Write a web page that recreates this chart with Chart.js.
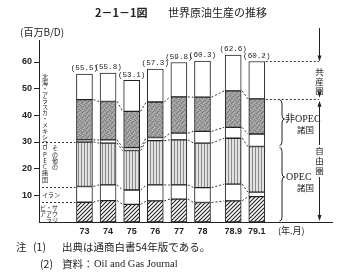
<!DOCTYPE html>
<html>
<head>
<meta charset="utf-8">
<script src="https://cdn.jsdelivr.net/npm/chart.js@4.4.1/dist/chart.umd.min.js"></script>
<style>
  html, body { margin: 0; padding: 0; background: #fff; }
</style>
</head>
<body>
<canvas id="chart" width="351" height="275"></canvas>
<script>
// data (百万B/D)
const years = ['73', '74', '75', '76', '77', '78', '78.9', '79.1'];
const saudi = [7.4, 8.0, 6.6, 7.9, 8.6, 7.3, 7.9, 9.5];
const iran = [5.9, 5.9, 5.4, 6.0, 5.3, 5.6, 6.3, 1.7];
const otherOpec = [16.7, 15.7, 14.8, 16.6, 16.9, 16.7, 17.2, 17.1];
const northSea = [0.8, 1.2, 1.1, 1.2, 2.5, 4.4, 4.1, 4.7];
const otherNonOpec = [15.1, 14.4, 13.6, 13.3, 13.6, 12.8, 13.7, 13.2];
const communist = [9.6, 10.6, 11.6, 12.3, 12.9, 13.5, 13.4, 14.0];
const totals = ['55.5', '55.8', '53.1', '57.3', '59.8', '60.3', '62.6', '60.2'];
const yTicks = [10, 20, 30, 40, 50, 60];

// monthly bars sit a bit further right than the yearly ones
function xPos(i) { return i + (i >= 6 ? 0.3 : 0); }

const canvas = document.getElementById('chart');
const mainCtx = canvas.getContext('2d');

function makePattern(w, h, draw) {
    const c = document.createElement('canvas');
    c.width = w; c.height = h;
    draw(c.getContext('2d'), w, h);
    return mainCtx.createPattern(c, 'repeat');
}

const hatch = makePattern(4, 4, function(g, w, h) {
    g.fillStyle = '#fff'; g.fillRect(0, 0, w, h);
    g.strokeStyle = '#222'; g.lineWidth = 1.1;
    g.beginPath();
    g.moveTo(0, h); g.lineTo(w, 0);
    g.moveTo(-1, 1); g.lineTo(1, -1);
    g.moveTo(w - 1, h + 1); g.lineTo(w + 1, h - 1);
    g.stroke();
});
const stripes = makePattern(3, 3, function(g, w, h) {
    g.fillStyle = '#e2e2e2'; g.fillRect(0, 0, w, h);
    g.fillStyle = '#8a8a8a'; g.fillRect(0, 0, 1, h);
});
const stipple = makePattern(5, 5, function(g, w, h) {
    g.fillStyle = '#9e9e9e'; g.fillRect(0, 0, w, h);
    g.fillStyle = '#7a7a7a';
    g.fillRect(0, 0, 1, 1); g.fillRect(3, 1, 1, 1); g.fillRect(1, 3, 1, 1); g.fillRect(4, 4, 1, 1); g.fillRect(2, 2, 1, 1);
    g.fillStyle = '#b6b6b6';
    g.fillRect(2, 0, 1, 1); g.fillRect(4, 2, 1, 1); g.fillRect(0, 4, 1, 1); g.fillRect(3, 3, 1, 1);
});

const series = [saudi, iran, otherOpec, northSea, otherNonOpec, communist];
const names = ['サウジアラビア', 'イラン', 'その他のOPEC諸国', '北海・アラスカ・メキシコ', 'その他の非OPEC諸国', '共産圏'];
const fills = [hatch, '#fff', stripes, '#fff', stipple, '#fff'];

const datasets = series.map(function(s, k) {
    return {
        label: names[k],
        data: s.map(function(v, i) { return { x: xPos(i), y: v }; }),
        backgroundColor: fills[k],
        borderColor: '#222',
        borderWidth: 1,
        borderSkipped: false,
        barThickness: 16
    };
});

function vtext(ctx, str, x, y, step) {
    for (let i = 0; i < str.length; i++) {
        ctx.fillText(str[i], x, y + i * step);
    }
}

function arrowHead(ctx, x, y, dir) {
    ctx.beginPath();
    ctx.moveTo(x, y);
    ctx.lineTo(x - 2, y - 6 * dir);
    ctx.lineTo(x + 2, y - 6 * dir);
    ctx.closePath();
    ctx.fill();
}

function brace(ctx, x, y1, y2, ym, w) {
    const r = 4;
    ctx.beginPath();
    ctx.moveTo(x, y1);
    ctx.quadraticCurveTo(x + w / 2, y1, x + w / 2, y1 + r);
    ctx.lineTo(x + w / 2, ym - r);
    ctx.quadraticCurveTo(x + w / 2, ym, x + w, ym);
    ctx.quadraticCurveTo(x + w / 2, ym, x + w / 2, ym + r);
    ctx.lineTo(x + w / 2, y2 - r);
    ctx.quadraticCurveTo(x + w / 2, y2, x, y2);
    ctx.stroke();
}

const overlay = {
    id: 'overlay',
    afterDatasetsDraw(chart) {
        const ctx = chart.ctx;
        const ys = chart.scales.y;
        const bars = chart.getDatasetMeta(0).data;
        const n = years.length;

        // cumulative levels for each bar
        const cum = [];
        for (let i = 0; i < n; i++) {
            let s = 0;
            const row = [];
            series.forEach(function(arr) { s += arr[i]; row.push(s); });
            cum.push(row);
        }

        ctx.save();
        ctx.strokeStyle = '#333';
        ctx.lineWidth = 1;
        ctx.setLineDash([2, 2]);

        // dashed connectors between neighbouring bars
        for (let k = 0; k < 5; k++) {
            for (let i = 0; i < n - 1; i++) {
                const a = bars[i], b = bars[i + 1];
                ctx.beginPath();
                ctx.moveTo(a.x + a.width / 2 + 1, ys.getPixelForValue(cum[i][k]));
                ctx.lineTo(b.x - b.width / 2 - 1, ys.getPixelForValue(cum[i + 1][k]));
                ctx.stroke();
            }
        }
        // dashed leaders from left labels
        [0, 1, 2].forEach(function(k) {
            const y = Math.round(ys.getPixelForValue(cum[0][k])) + 0.5;
            ctx.beginPath();
            ctx.moveTo(42, y);
            ctx.lineTo(bars[0].x - bars[0].width / 2 - 1, y);
            ctx.stroke();
        });
        // dashed leaders to right annotation
        const last = bars[n - 1];
        [5, 4].forEach(function(k) {
            const y = Math.round(ys.getPixelForValue(cum[n - 1][k])) + 0.5;
            ctx.beginPath();
            ctx.moveTo(last.x + last.width / 2 + 1, y);
            ctx.lineTo(319, y);
            ctx.stroke();
        });
        ctx.setLineDash([]);

        // totals above bars
        ctx.fillStyle = '#222';
        ctx.font = '7.6px "Liberation Mono", monospace';
        ctx.textAlign = 'center';
        ctx.textBaseline = 'bottom';
        for (let i = 0; i < n; i++) {
            ctx.fillText('(' + totals[i] + ')', bars[i].x, ys.getPixelForValue(cum[i][5]) - 2);
        }

        // left side small labels
        ctx.font = '6px "Noto Sans CJK JP"';
        ctx.textBaseline = 'middle';
        vtext(ctx, '北海・アラスカ・メキシコ', 45, 77, 6);
        vtext(ctx, 'OPEC諸国', 45, 148, 6.3);
        vtext(ctx, 'その他の', 55, 148, 6.3);
        ctx.textAlign = 'left';
        ctx.fillText('イラン', 42, 195);
        ctx.textAlign = 'center';
        vtext(ctx, 'サウジ', 55, 208, 6);
        vtext(ctx, '・アラ', 49, 208, 6);
        vtext(ctx, 'ビア', 43, 208, 6);

        // right side annotation
        const xr = 319.5;
        const yTop = ys.getPixelForValue(cum[n - 1][5]);
        const yFree = ys.getPixelForValue(cum[n - 1][4]);
        const yOpec = ys.getPixelForValue(cum[n - 1][2]);
        const yBase = ys.getPixelForValue(0);
        ctx.strokeStyle = '#222';
        ctx.lineWidth = 1;
        ctx.beginPath(); ctx.moveTo(xr, 28); ctx.lineTo(xr, yTop - 4); ctx.stroke();
        arrowHead(ctx, xr, yTop, 1);
        ctx.beginPath(); ctx.moveTo(xr, 94); ctx.lineTo(xr, yFree - 3); ctx.stroke();
        arrowHead(ctx, xr, yFree - 1, 1);
        ctx.beginPath(); ctx.moveTo(xr, yFree + 4); ctx.lineTo(xr, 145); ctx.stroke();
        ctx.beginPath(); ctx.moveTo(xr, 177); ctx.lineTo(xr, yBase - 4); ctx.stroke();
        arrowHead(ctx, xr, yFree + 2, -1);
        arrowHead(ctx, xr, yBase - 1, 1);

        ctx.font = '8.5px "Noto Sans CJK JP"';
        ctx.textAlign = 'center';
        vtext(ctx, '共産圏', xr, 72, 9.5);
        vtext(ctx, '自由圏', xr, 151, 10);

        brace(ctx, 279.5, yFree + 1, yOpec - 1, 119, 5);
        brace(ctx, 279.5, yOpec + 1, yBase - 1, 177, 5);

        ctx.textAlign = 'left';
        ctx.font = '10px "Liberation Serif", "Noto Sans CJK JP"';
        ctx.fillText('非OPEC', 285, 119);
        ctx.fillText('OPEC', 286, 177);
        ctx.font = '8.5px "Noto Sans CJK JP"';
        ctx.fillText('諸国', 297, 130);
        ctx.fillText('諸国', 297, 188);

        ctx.restore();
    },
    afterDraw(chart) {
        const ctx = chart.ctx;
        ctx.save();
        ctx.fillStyle = '#222';
        ctx.textBaseline = 'middle';
        ctx.textAlign = 'left';
        // title
        ctx.font = 'bold 11px "Noto Sans CJK JP"';
        ctx.fillText('2－1－1図', 95, 13);
        ctx.font = '11px "Noto Sans CJK JP"';
        ctx.fillText('世界原油生産の推移', 168, 13);
        // unit
        ctx.font = '10px "Noto Sans CJK JP"';
        ctx.fillText('(百万B/D)', 20, 32);
        // x unit
        ctx.font = '9px "Noto Sans CJK JP"';
        ctx.fillText('(年.月)', 278, 231);
        // notes
        ctx.font = '10.5px "Noto Sans CJK JP"';
        ctx.fillText('注', 16, 247);
        ctx.fillText('(1)', 33, 247);
        ctx.fillText('出典は通商白書54年版である。', 62, 247);
        ctx.fillText('(2)', 40, 264);
        ctx.fillText('資料：', 62, 264);
        ctx.font = '10.5px "Liberation Serif"';
        ctx.fillText('Oil and Gas Journal', 94, 264);
        ctx.restore();
    }
};

const chart = new Chart(canvas, {
    type: 'bar',
    data: { datasets: datasets },
    options: {
        responsive: false,
        devicePixelRatio: 1,
        animation: false,
        layout: { padding: { top: 40, right: 19, bottom: 0, left: 0 } },
        plugins: {
            legend: { display: false },
            tooltip: { enabled: false }
        },
        scales: {
            x: {
                type: 'linear',
                stacked: true,
                min: -1.15,
                max: 9.71,
                grid: { display: false, drawTicks: false },
                border: { display: true, color: '#222', width: 1 },
                afterBuildTicks: function(scale) {
                    scale.ticks = years.map(function(_, i) { return { value: xPos(i) }; });
                },
                afterFit: function(scale) { scale.height = 53; },
                ticks: {
                    autoSkip: false,
                    maxRotation: 0,
                    padding: 4,
                    color: '#222',
                    font: { family: 'Liberation Sans', size: 9, weight: 'bold' },
                    callback: function(value, index) { return years[index]; }
                }
            },
            y: {
                stacked: true,
                min: 0,
                max: 68.25,
                grid: { drawOnChartArea: false, drawTicks: true, tickLength: 5, color: '#222' },
                border: { display: true, color: '#222', width: 1 },
                afterBuildTicks: function(scale) {
                    scale.ticks = yTicks.map(function(v) { return { value: v }; });
                },
                afterFit: function(scale) { scale.width = 39; },
                ticks: {
                    padding: 2,
                    color: '#222',
                    font: { family: 'Liberation Sans', size: 9, weight: 'bold' }
                }
            }
        }
    },
    plugins: [overlay]
});
</script>
</body>
</html>
